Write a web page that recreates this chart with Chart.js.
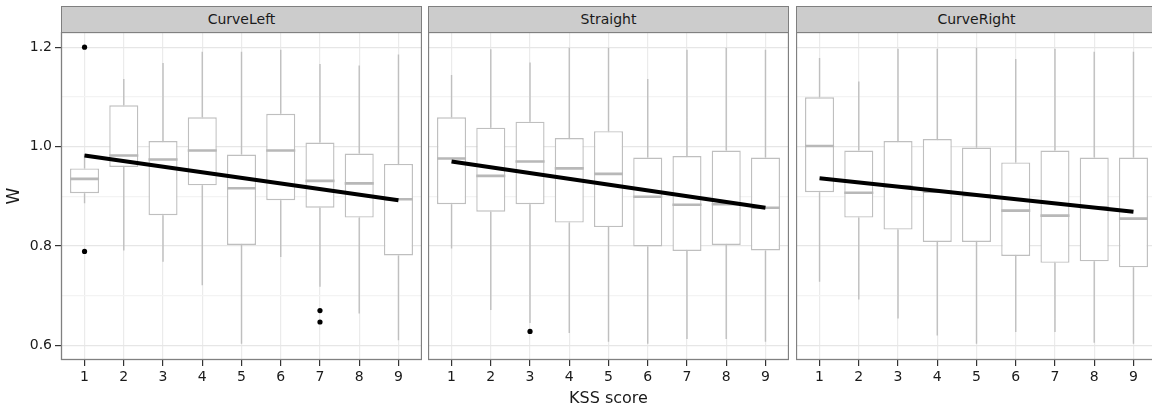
<!DOCTYPE html>
<html>
<head>
<meta charset="utf-8">
<script src="https://cdn.jsdelivr.net/npm/chart.js@4.4.1/dist/chart.umd.min.js"></script>
<style>
	body { margin: 0; width: 1152px; height: 414px; overflow: hidden; background: #fff; position: relative; font-family: "DejaVu Sans", sans-serif; }
	.strip { position: absolute; top: 6px; height: 27px; box-sizing: border-box; background: #cccccc; border: 1px solid #7f7f7f; color: #1a1a1a; font-size: 14px; line-height: 25px; text-align: center; }
	canvas { position: absolute; top: 32px; }
</style>
</head>
<body>
<div class="strip" style="left:61px;width:361px">CurveLeft</div>
<div class="strip" style="left:428px;width:361px">Straight</div>
<div class="strip" style="left:796px;width:361px">CurveRight</div>
<canvas id="left" width="422" height="382" style="left:0px"></canvas>
<canvas id="straight" width="361" height="382" style="left:428px"></canvas>
<canvas id="right" width="361" height="382" style="left:796px"></canvas>
<script>
// KSS score categories and tick values
const categories = [1, 2, 3, 4, 5, 6, 7, 8, 9];
const yTicks = [0.6, 0.7, 0.8, 0.9, 1.0, 1.1, 1.2];
const yLabels = ['0.6', '', '0.8', '', '1.0', '', '1.2'];

// CurveLeft boxplots (whisker low, Q1, median, Q3, whisker high)
const leftLow  = [0.886, 0.791, 0.768, 0.721, 0.603, 0.778, 0.718, 0.664, 0.610];
const leftQ1   = [0.906, 0.959, 0.862, 0.922, 0.802, 0.892, 0.877, 0.857, 0.781];
const leftMed  = [0.935, 0.982, 0.974, 0.992, 0.916, 0.992, 0.931, 0.926, 0.894];
const leftQ3   = [0.956, 1.083, 1.011, 1.059, 0.984, 1.066, 1.008, 0.986, 0.965];
const leftHigh = [0.985, 1.136, 1.168, 1.191, 1.191, 1.195, 1.166, 1.163, 1.185];
const leftOutX = [1, 1, 7, 7];
const leftOutY = [1.200, 0.789, 0.670, 0.647];
const leftFit  = [0.982, 0.892]; // fitted values at KSS 1 and 9

// Straight
const strLow  = [0.795, 0.671, 0.645, 0.625, 0.607, 0.603, 0.613, 0.613, 0.607];
const strQ1   = [0.884, 0.869, 0.884, 0.847, 0.838, 0.799, 0.790, 0.802, 0.791];
const strMed  = [0.976, 0.941, 0.970, 0.956, 0.945, 0.899, 0.883, 0.884, 0.877];
const strQ3   = [1.059, 1.038, 1.050, 1.017, 1.031, 0.978, 0.981, 0.992, 0.978];
const strHigh = [1.144, 1.196, 1.169, 1.199, 1.199, 1.136, 1.195, 1.199, 1.195];
const strOutX = [3];
const strOutY = [0.628];
const strFit  = [0.970, 0.877];

// CurveRight
const rgtLow  = [0.728, 0.692, 0.654, 0.620, 0.603, 0.627, 0.627, 0.605, 0.603];
const rgtQ1   = [0.908, 0.857, 0.833, 0.808, 0.808, 0.780, 0.766, 0.769, 0.757];
const rgtMed  = [1.001, 0.907, 0.920, 0.909, 0.902, 0.871, 0.861, 0.878, 0.855];
const rgtQ3   = [1.099, 0.992, 1.011, 1.015, 0.998, 0.968, 0.992, 0.978, 0.978];
const rgtHigh = [1.178, 1.131, 1.197, 1.197, 1.199, 1.176, 1.197, 1.191, 1.191];
const rgtOutX = [];
const rgtOutY = [];
const rgtFit  = [0.936, 0.869];

Chart.defaults.font.family = '"DejaVu Sans", sans-serif';
Chart.defaults.font.size = 14;
Chart.defaults.color = '#1a1a1a';

const boxWidth = 0.74;
const boxColor = '#bfbfbf';

// Draw full panel border like ggplot theme_bw
const panelBorder = {
	id: 'panelBorder',
	afterDraw(chart) {
		const { ctx, chartArea: a } = chart;
		ctx.save();
		ctx.strokeStyle = '#808080';
		ctx.lineWidth = 1.3;
		ctx.strokeRect(a.left + 0.5, a.top + 0.5, a.right - a.left - 1, a.bottom - a.top - 1);
		ctx.restore();
	}
};

// keep the plot area fixed: no automatic padding for tick labels
function noPadding(scale) {
	scale.paddingTop = 0;
	scale.paddingBottom = 0;
	scale.paddingLeft = 0;
	scale.paddingRight = 0;
}

function makePanel(id, low, q1, med, q3, high, outX, outY, fit, showY, showTitle) {
	const boxes = categories.map((c, i) => ({ x: c, y: [q1[i], q3[i]] }));
	const whiskers = [];
	const medians = [];
	categories.forEach((c, i) => {
		whiskers.push({ x: c, y: low[i] }, { x: c, y: q1[i] }, { x: c, y: null });
		whiskers.push({ x: c, y: q3[i] }, { x: c, y: high[i] }, { x: c, y: null });
		medians.push({ x: c - boxWidth / 2, y: med[i] }, { x: c + boxWidth / 2, y: med[i] }, { x: c, y: null });
	});
	const outliers = outX.map((x, i) => ({ x: x, y: outY[i] }));
	const fitLine = [{ x: categories[0], y: fit[0] }, { x: categories[categories.length - 1], y: fit[1] }];

	return new Chart(document.getElementById(id), {
		type: 'bar',
		data: {
			datasets: [
				{ type: 'line', data: fitLine, borderColor: '#000', borderWidth: 4, pointRadius: 0, order: 0 },
				{ type: 'line', data: outliers, showLine: false, pointRadius: 2.6, pointBackgroundColor: '#000', pointBorderWidth: 0, order: 1 },
				{ type: 'line', data: medians, borderColor: '#b8b8b8', borderWidth: 2.6, pointRadius: 0, spanGaps: false, order: 2 },
				{ type: 'line', data: whiskers, borderColor: boxColor, borderWidth: 1.4, pointRadius: 0, spanGaps: false, order: 3 },
				{ data: boxes, backgroundColor: '#ffffff', borderColor: boxColor, borderWidth: 1.4, borderSkipped: false, barPercentage: boxWidth, categoryPercentage: 1, order: 4 }
			]
		},
		options: {
			responsive: false,
			animation: false,
			layout: { padding: 0, autoPadding: false },
			plugins: { legend: { display: false }, tooltip: { enabled: false } },
			scales: {
				x: {
					type: 'linear',
					min: 0.4,
					max: 9.6,
					offset: false,
					afterBuildTicks: scale => { scale.ticks = categories.map(v => ({ value: v })); },
					afterFit: scale => { scale.height = 54; noPadding(scale); },
					ticks: { color: '#1a1a1a', padding: 3, maxRotation: 0, autoSkip: false, callback: v => String(v) },
					grid: { offset: false, color: '#ebebeb', lineWidth: 1.2, tickColor: '#333', tickLength: 6, tickWidth: 1.2 },
					border: { display: false },
					title: { display: showTitle, text: 'KSS score', font: { size: 16 }, color: '#1a1a1a', padding: { top: 0, bottom: 6 } }
				},
				y: {
					min: 0.5705,
					max: 1.2305,
					afterBuildTicks: scale => { scale.ticks = yTicks.map(v => ({ value: v })); },
					afterFit: scale => { scale.width = showY ? 61 : 0; noPadding(scale); },
					ticks: {
						display: showY,
						color: '#1a1a1a',
						padding: 3,
						callback: (v, i) => yLabels[i]
					},
					grid: {
						color: ctx => yLabels[ctx.index] ? '#e6e6e6' : '#f3f3f3',
						lineWidth: 1.2,
						drawTicks: showY,
						tickLength: 6,
						tickWidth: 1.2,
						tickColor: ctx => yLabels[ctx.index] ? '#333' : 'rgba(0,0,0,0)'
					},
					border: { display: false },
					title: { display: showY, text: 'W', font: { size: 17 }, color: '#1a1a1a', padding: { top: 4, bottom: 0 } }
				}
			}
		},
		plugins: [panelBorder]
	});
}

makePanel('left', leftLow, leftQ1, leftMed, leftQ3, leftHigh, leftOutX, leftOutY, leftFit, true, false);
makePanel('straight', strLow, strQ1, strMed, strQ3, strHigh, strOutX, strOutY, strFit, false, true);
makePanel('right', rgtLow, rgtQ1, rgtMed, rgtQ3, rgtHigh, rgtOutX, rgtOutY, rgtFit, false, false);
</script>
</body>
</html>
